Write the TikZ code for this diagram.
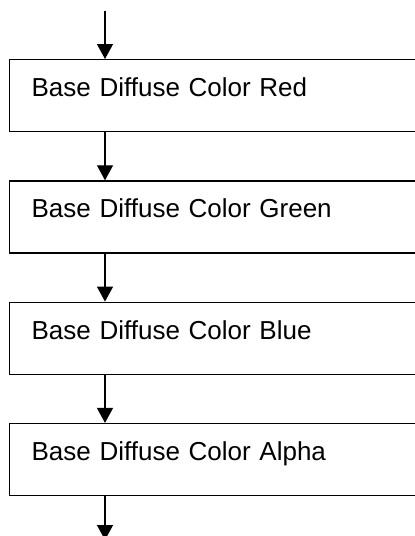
\documentclass[tikz,border=0pt]{standalone}
\usepackage{fontspec}
\setmainfont{Liberation Sans}
\usetikzlibrary{positioning, arrows.meta}

\newcommand{\boxfont}{\fontsize{26pt}{30pt}\selectfont}

\begin{document}
\begin{tikzpicture}[x=1pt, y=1pt,
    % Define the style for the colour boxes
    colorbox/.style={
        draw, line width=1.3pt, rectangle, anchor=north west,
        text width=372pt, align=left, inner xsep=22pt, inner ysep=0pt,
        text height=37pt, text depth=35pt,
        font=\boxfont
    },
    % Define the style for the flow arrows
    flowarrow/.style={
        line width=1.3pt, -{Triangle[length=15pt, width=16pt]}
    }
]

% Fix the page size
\useasboundingbox (0,0) rectangle (415,-536);

% Define the free ends of the flow
\coordinate (start) at (105,-11);
\coordinate (finish) at (105,-540);

% Draw the boxes
\node[colorbox] (red) at (9,-59) {Base Diffuse Color Red};
\node[colorbox, below=48pt of red.south west, anchor=north west] (green) {Base Diffuse Color Green};
\node[colorbox, below=48pt of green.south west, anchor=north west] (blue) {Base Diffuse Color Blue};
\node[colorbox, below=48pt of blue.south west, anchor=north west] (alpha) {Base Diffuse Color Alpha};

% Draw the flow arrows
\draw[flowarrow] (start) -- ([xshift=96pt]red.north west);
\draw[flowarrow] ([xshift=96pt]red.south west) -- ([xshift=96pt]green.north west);
\draw[flowarrow] ([xshift=96pt]green.south west) -- ([xshift=96pt]blue.north west);
\draw[flowarrow] ([xshift=96pt]blue.south west) -- ([xshift=96pt]alpha.north west);
\draw[flowarrow] ([xshift=96pt]alpha.south west) -- (finish);

\end{tikzpicture}
\end{document}
